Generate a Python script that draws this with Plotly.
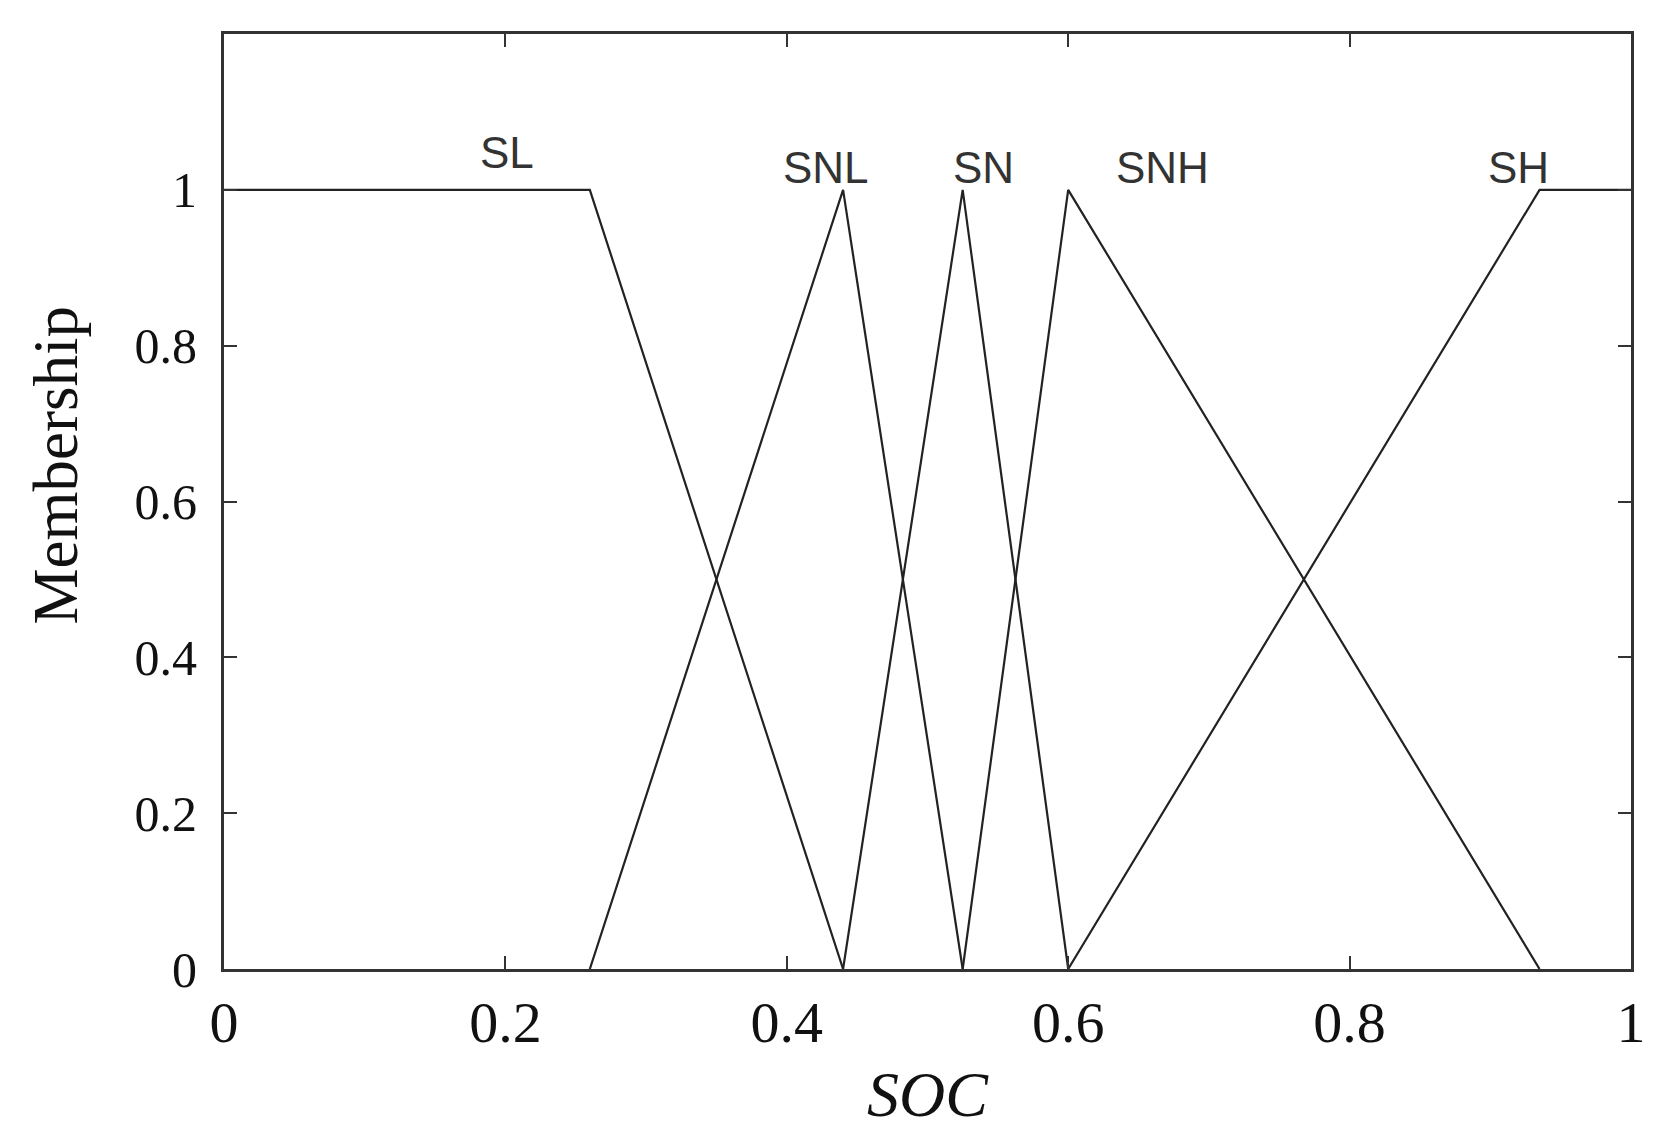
import plotly.graph_objects as go

# membership functions of SOC (breakpoints)
sl_x = [0.0, 0.26, 0.44]
sl_y = [1, 1, 0]
snl_x = [0.26, 0.44, 0.525]
snl_y = [0, 1, 0]
sn_x = [0.44, 0.525, 0.6]
sn_y = [0, 1, 0]
snh_x = [0.525, 0.6, 0.935]
snh_y = [0, 1, 0]
sh_x = [0.6, 0.935, 1.0]
sh_y = [0, 1, 1]

label_names = ['SL', 'SNL', 'SN', 'SNH', 'SH']
label_x = [0.201, 0.428, 0.54, 0.667, 0.92]
label_y = [1.048, 1.029, 1.029, 1.029, 1.029]

x_ticks = [0, 0.2, 0.4, 0.6, 0.8, 1]
y_ticks = [0, 0.2, 0.4, 0.6, 0.8, 1]

fig = go.Figure()
for xs, ys in [(sl_x, sl_y), (snl_x, snl_y), (sn_x, sn_y), (snh_x, snh_y), (sh_x, sh_y)]:
    fig.add_trace(go.Scatter(x=xs, y=ys, mode='lines',
                             line=dict(color='#222222', width=2.2), showlegend=False))

for name, lx, ly in zip(label_names, label_x, label_y):
    fig.add_annotation(x=lx, y=ly, text=name, showarrow=False, yanchor='middle',
                       font=dict(family='Liberation Sans', size=44, color='#333333'))

# axis titles placed as annotations so they sit where the original has them
fig.add_annotation(xref='paper', yref='paper', x=0.5, y=0, yshift=-125,
                   xanchor='center', yanchor='middle',
                   text='<i>SOC</i>', showarrow=False,
                   font=dict(family='Liberation Serif', size=64, color='#111111'))
fig.add_annotation(xref='paper', yref='paper', x=0, xshift=-169, y=0.5, yshift=36,
                   xanchor='center', yanchor='middle',
                   text='Membership', textangle=-90, showarrow=False,
                   font=dict(family='Liberation Serif', size=63, color='#111111'))

axis_style = dict(showline=True, linecolor='#333333', linewidth=3, mirror='allticks',
                  ticks='inside', ticklen=13, tickwidth=2, tickcolor='#333333',
                  showgrid=False, zeroline=False)

fig.update_layout(
    width=1668, height=1148,
    margin=dict(l=216, r=45, t=26, b=187),
    plot_bgcolor='white', paper_bgcolor='white',
    xaxis=dict(range=[0, 1], tickvals=x_ticks, ticktext=[str(v) for v in x_ticks],
               tickfont=dict(family='Liberation Serif', size=58, color='#111111'),
               **axis_style),
    yaxis=dict(range=[0, 1.2], tickvals=y_ticks, ticktext=[str(v) for v in y_ticks],
               tickfont=dict(family='Liberation Serif', size=50, color='#111111'),
               ticklabelstandoff=14,
               **axis_style),
)

fig.write_html("out.html")
